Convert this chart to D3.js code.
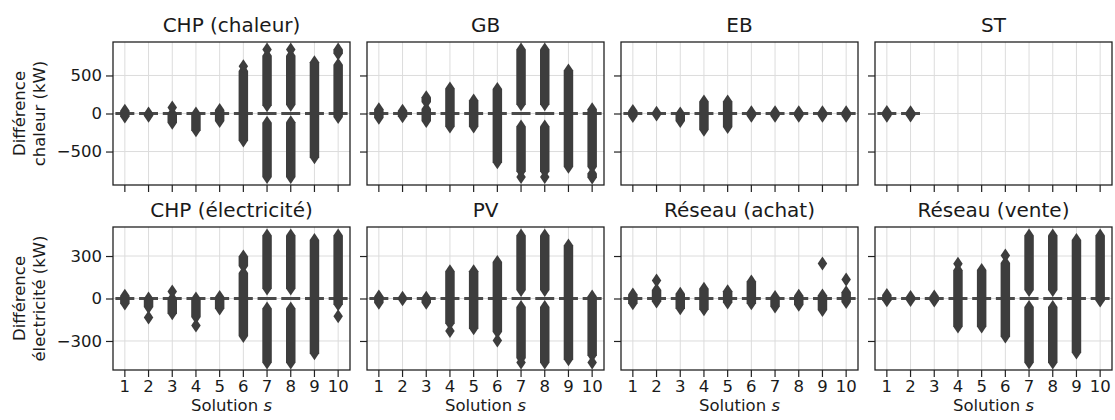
<!DOCTYPE html>
<html><head><meta charset="utf-8">
<script src="https://cdn.jsdelivr.net/npm/d3@7"></script>
<style>
html,body{margin:0;padding:0;background:#fff;}
text{font-family:"DejaVu Sans",sans-serif;fill:#1a1a1a;}
</style></head>
<body><svg id="chart" width="1115" height="420"></svg>
<script>
// ---- data ----
const solutions = [1,2,3,4,5,6,7,8,9,10];
const titles = ["CHP (chaleur)","GB","EB","ST","CHP (électricité)","PV","Réseau (achat)","Réseau (vente)"];
const rowLabels = [["Différence","chaleur (kW)"],["Différence","électricité (kW)"]];
const heatTicks = [-500, 0, 500];
const elecTicks = [-300, 0, 300];
const heatDomain = [-940, 940];
const elecDomain = [-505, 505];
// outliers per solution: groups of densely packed flier values [low, high] (single value when low == high)
const chpHeat = [
  [[-40,35]], [[-30,0]], [[-120,0],[80,80]], [[-220,0]], [[-100,45]],
  [[-355,560],[620,620]], [[-835,-120],[110,760],[840,840]], [[-835,-115],[115,760],[840,840]],
  [[-575,675]], [[-45,640],[790,840]]
];
const gb = [
  [[-55,55]], [[-35,35]], [[-97,60],[150,212]], [[-170,330]], [[-170,170]],
  [[-640,322]], [[-760,-170],[-835,-835],[120,840]], [[-760,-170],[-835,-835],[120,840]],
  [[-700,566]], [[-700,57],[-840,-790]]
];
const eb = [
  [[-32,32]], [[-12,10]], [[-97,0]], [[-212,159]], [[-177,159]],
  [[-30,15]], [[-30,15]], [[-28,18]], [[-28,15]], [[-30,15]]
];
const st = [
  [[-30,20]], [[-25,15]], null, null, null, null, null, null, null, null
];
const chpElec = [
  [[-35,20]], [[-60,0],[-135,-135]], [[-105,0],[50,50]], [[-130,0],[-190,-190]], [[-70,10]],
  [[-265,180],[230,297]], [[-452,-70],[70,445]], [[-452,-70],[70,445]],
  [[-386,414]], [[-40,445],[-125,-125]]
];
const pv = [
  [[-30,15]], [[-5,5]], [[-30,5]], [[-175,193],[-230,-230]], [[-210,193]],
  [[-235,257],[-297,-297]], [[-420,-60],[-452,-452],[60,445]], [[-452,-60],[60,445]],
  [[-429,374]], [[-400,14],[-452,-452]]
];
const gridBuy = [
  [[-34,29]], [[-22,60],[128,128]], [[-69,33]], [[-76,68]], [[-29,52]],
  [[-34,120]], [[-57,10]], [[-45,20]], [[-81,21],[247,247]], [[-25,45],[134,134]]
];
const gridSell = [
  [[-12,25]], [[-10,10]], [[-15,15]], [[-198,200],[245,245]], [[-198,202]],
  [[-269,250],[304,304]], [[-452,-60],[60,445]], [[-452,-60],[60,445]],
  [[-382,414]], [[-15,445]]
];
const panels = [chpHeat, gb, eb, st, chpElec, pv, gridBuy, gridSell];

// ---- layout ----
const svg = d3.select("#chart");
const panelW = 237, panelStep = 254, left0 = 113;
const rowTop = [42, 227], panelH = 143;
const flierW = 9.5, flierH = 14;
const fc = "#3d3d3d";
const fs = "16.5px";

panels.forEach((data, i) => {
  const row = Math.floor(i / 4), col = i % 4;
  const x0 = left0 + col * panelStep, y0 = rowTop[row];
  const g = svg.append("g").attr("transform", `translate(${x0},${y0})`);
  const x = d3.scaleBand().domain(solutions).range([0, panelW]).paddingInner(0).paddingOuter(0);
  const y = d3.scaleLinear().domain(row === 0 ? heatDomain : elecDomain).range([panelH, 0]);
  const yt = row === 0 ? heatTicks : elecTicks;
  const bw = x.bandwidth();

  // grid
  g.append("g").selectAll("line").data(solutions).join("line")
    .attr("x1", d => x(d) + bw/2).attr("x2", d => x(d) + bw/2)
    .attr("y1", 0).attr("y2", panelH).attr("stroke", "#dcdcdc").attr("stroke-width", 1);
  g.append("g").selectAll("line").data(yt).join("line")
    .attr("x1", 0).attr("x2", panelW).attr("y1", d => y(d)).attr("y2", d => y(d))
    .attr("stroke", "#dcdcdc").attr("stroke-width", 1);

  // boxes (zero-height, median at 0)
  const withData = solutions.filter((s, k) => data[k]);
  g.append("g").selectAll("line").data(withData).join("line")
    .attr("x1", d => x(d) + bw*0.1).attr("x2", d => x(d) + bw*0.9)
    .attr("y1", y(0)).attr("y2", y(0))
    .attr("stroke", "#4a4a4a").attr("stroke-width", 3);

  // fliers
  const segs = [];
  data.forEach((arr, k) => { if (arr) arr.forEach(s => segs.push({sol: solutions[k], lo: s[0], hi: s[1]})); });
  g.append("g").selectAll("path").data(segs).join("path")
    .attr("d", d => {
      const cx = x(d.sol) + bw/2, yh = y(d.hi), yl = y(d.lo), hw = flierW/2, hh = flierH/2;
      return `M${cx},${yh-hh}L${cx+hw},${yh}L${cx+hw},${yl}L${cx},${yl+hh}L${cx-hw},${yl}L${cx-hw},${yh}Z`;
    })
    .attr("fill", fc);

  // axes
  const ax = g.append("g").attr("transform", `translate(0,${panelH})`)
    .call(d3.axisBottom(x).tickSize(7).tickPadding(3).tickFormat(d => row === 1 ? d : ""));
  const ay = g.append("g")
    .call(d3.axisLeft(y).tickValues(yt).tickSize(7).tickPadding(4)
      .tickFormat(d => col === 0 ? (d < 0 ? "\u2212" + Math.abs(d) : d) : ""));
  [ax, ay].forEach(a => {
    a.select(".domain").remove();
    a.selectAll(".tick line").attr("stroke", "#222").attr("stroke-width", 1.2);
    a.selectAll(".tick text").style("font-size", fs).attr("fill", "#1a1a1a")
      .style("font-family", "DejaVu Sans");
  });
  g.append("rect").attr("width", panelW).attr("height", panelH)
    .attr("fill", "none").attr("stroke", "#222").attr("stroke-width", 1.3);

  // title
  g.append("text").attr("x", panelW/2).attr("y", -10.5).attr("text-anchor", "middle")
    .style("font-size", "20px").text(titles[i]);

  if (row === 1) {
    const t = g.append("text").attr("x", panelW/2).attr("y", panelH + 41)
      .attr("text-anchor", "middle").style("font-size", fs);
    t.append("tspan").text("Solution ");
    t.append("tspan").style("font-style", "italic").text("s");
  }
  if (col === 0) {
    rowLabels[row].forEach((ln, j) => {
      g.append("text").attr("transform", `translate(${-88 + j*20},${panelH/2}) rotate(-90)`)
        .attr("text-anchor", "middle").style("font-size", fs).text(ln);
    });
  }
});
</script></body></html>
